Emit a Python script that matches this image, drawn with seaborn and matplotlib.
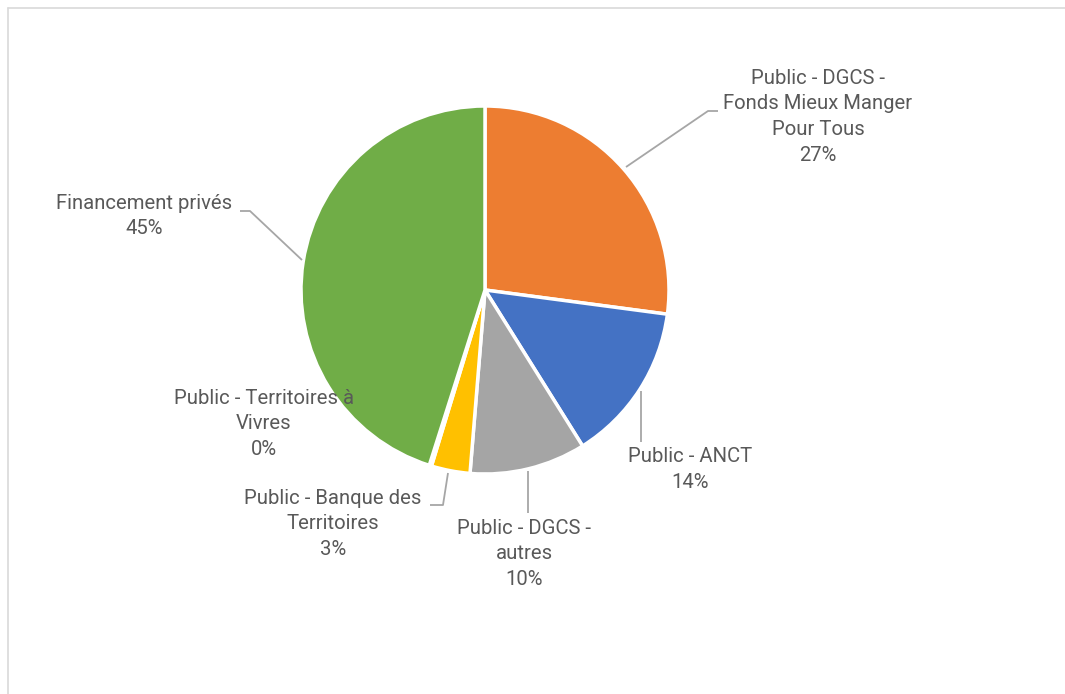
import matplotlib
matplotlib.use("Agg")
import matplotlib.pyplot as plt
import seaborn as sns
from matplotlib.lines import Line2D

categories = [
    "Public - DGCS -\nFonds Mieux Manger\nPour Tous",
    "Public - ANCT",
    "Public - DGCS -\nautres",
    "Public - Banque des\nTerritoires",
    "Public - Territoires à\nVivres",
    "Financement privés",
]
values = [27.1, 14.0, 10.2, 3.4, 0.2, 45.1]
colors = ["#ED7D31", "#4472C4", "#A5A5A5", "#FFC000", "#5B9BD5", "#70AD47"]

sns.set_theme(style="white")
plt.rcParams["font.family"] = ["Roboto", "DejaVu Sans"]

W, H = 1065, 694
fig = plt.figure(figsize=(W / 100, H / 100), dpi=100)
ax = fig.add_axes([0, 0, 1, 1])

def Y(y):
    return H - y

cx, cy, r = 485, 290, 184
ax.pie(values, colors=colors, startangle=90, counterclock=False,
       center=(cx, Y(cy)), radius=r, frame=True,
       wedgeprops=dict(edgecolor="white", linewidth=2.5))
ax.set_xlim(0, W)
ax.set_ylim(0, H)
ax.set_aspect("equal")
ax.axis("off")

total = sum(values)
label_pos = [(818, 78), (690, 457), (524, 528), (333, 498), (264, 398), (144, 203)]
leaders = [
    [(626, 167), (708, 111), (718, 111)],
    [(641, 391), (641, 442)],
    [(528, 471), (528, 513)],
    [(448, 473), (443, 505), (430, 505)],
    None,
    [(302, 260), (250, 211), (240, 211)],
]
text_color = "#595959"
line_h = 25.7
for cat, v, (lx, ly), ld in zip(categories, values, label_pos, leaders):
    lines = cat.split("\n") + [f"{round(v / total * 100):.0f}%"]
    for i, t in enumerate(lines):
        ax.text(lx, Y(ly + i * line_h), t, ha="center", va="center",
                fontsize=14.6, color=text_color)
    if ld:
        ax.plot([p[0] for p in ld], [Y(p[1]) for p in ld],
                color="#A6A6A6", linewidth=1.3, solid_capstyle="butt")

fig.add_artist(Line2D([7.5 / W, 1], [1 - 7.5 / H, 1 - 7.5 / H],
                      transform=fig.transFigure, color="#D9D9D9", linewidth=1.2))
fig.add_artist(Line2D([7.5 / W, 7.5 / W], [0, 1 - 7.5 / H],
                      transform=fig.transFigure, color="#D9D9D9", linewidth=1.2))

fig.savefig("out.png", dpi=100, facecolor="white")
